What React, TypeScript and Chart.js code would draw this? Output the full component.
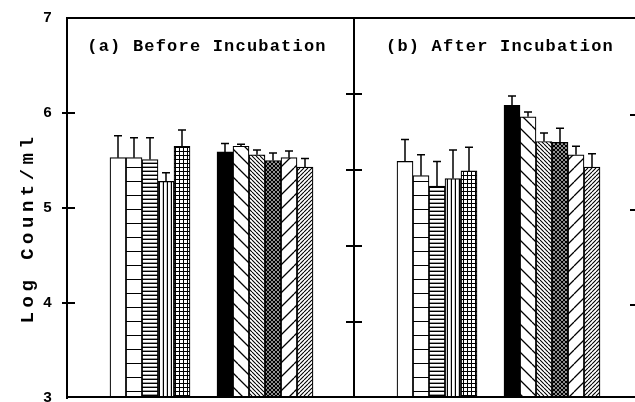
import React, { useEffect, useRef } from "react";
import { Chart, registerables } from "chart.js";

Chart.register(...registerables);

// ---------------- DATA ----------------
const PANEL_TITLES = ["(a) Before Incubation", "(b) After Incubation"];
const Y_TITLE = "Log Count/ml";
const Y_MIN = 3;
const Y_MAX = 7;
const Y_STEP = 1;

const G1_SERIES = ["Group 1 - 1", "Group 1 - 2", "Group 1 - 3", "Group 1 - 4", "Group 1 - 5"];
const G2_SERIES = ["Group 2 - 1", "Group 2 - 2", "Group 2 - 3", "Group 2 - 4", "Group 2 - 5", "Group 2 - 6"];

const G1_BEFORE = [5.53, 5.53, 5.51, 5.28, 5.65];
const G1_BEFORE_ERR = [0.23, 0.21, 0.23, 0.09, 0.17];
const G1_AFTER = [5.49, 5.34, 5.23, 5.31, 5.39];
const G1_AFTER_ERR = [0.23, 0.22, 0.26, 0.3, 0.25];

const G2_BEFORE = [5.59, 5.65, 5.56, 5.5, 5.53, 5.43];
const G2_BEFORE_ERR = [0.09, 0.02, 0.05, 0.08, 0.07, 0.09];
const G2_AFTER = [6.08, 5.96, 5.7, 5.69, 5.56, 5.43];
const G2_AFTER_ERR = [0.1, 0.05, 0.09, 0.15, 0.09, 0.14];

const G1_PATTERNS = ["blank", "hwide", "hdense", "vdense", "grid"];
const G2_PATTERNS = ["solid", "bswide", "bsdense", "checker", "fswide", "fsdense"];

// ---------------- LAYOUT ----------------
const W = 635;
const H = 402;
const AXIS_W = 67;
const PLOT_UNITS = W - AXIS_W; // 1 x-unit = 1 px
const PANEL_START = [0, 287];
const GROUP_OFFSET = [43, 150];
const BAR_W = 16;
const DIVIDER_X = 287;
const TITLE_X = [140, 433];
const MID_TICK_INTERVALS = 5;

function barX(panel: number, group: number, i: number) {
  return PANEL_START[panel] + GROUP_OFFSET[group] + i * BAR_W + BAR_W / 2;
}

function makePattern(kind: string): any {
  if (kind === "blank") return "#ffffff";
  if (kind === "solid") return "#000000";
  const s = kind.endsWith("wide") ? 14 : 4;
  const c = document.createElement("canvas");
  c.width = s;
  c.height = s;
  const g = c.getContext("2d")!;
  g.fillStyle = "#ffffff";
  g.fillRect(0, 0, s, s);
  g.fillStyle = "#000000";
  g.strokeStyle = "#000000";
  g.lineWidth = kind.endsWith("wide") ? 1.3 : 1.1;
  const diag = (dir: number) => {
    g.beginPath();
    for (let k = -1; k <= 1; k++) {
      if (dir > 0) {
        g.moveTo(k * s, 0);
        g.lineTo(k * s + s, s);
      } else {
        g.moveTo(k * s, s);
        g.lineTo(k * s + s, 0);
      }
    }
    g.stroke();
  };
  switch (kind) {
    case "hwide":
      g.fillRect(0, s - 1, s, 1);
      break;
    case "hdense":
      g.fillRect(0, s - 1.4, s, 1.4);
      break;
    case "vdense":
      g.fillRect(s - 1.2, 0, 1.2, s);
      break;
    case "grid":
      g.fillRect(0, s - 1, s, 1);
      g.fillRect(s - 1, 0, 1, s);
      break;
    case "bswide":
    case "bsdense":
      diag(1);
      break;
    case "fswide":
    case "fsdense":
      diag(-1);
      break;
    case "checker":
      g.lineWidth = 1.3;
      diag(1);
      diag(-1);
      break;
  }
  return g.createPattern(c, "repeat");
}

const decorPlugin = {
  id: "decor",
  afterDatasetsDraw(chart: any) {
    const ctx = chart.ctx;
    const y = chart.scales.y;
    ctx.save();
    ctx.strokeStyle = "#000";
    ctx.lineWidth = 1.5;
    chart.data.datasets.forEach((ds: any, di: number) => {
      const meta = chart.getDatasetMeta(di);
      meta.data.forEach((bar: any, j: number) => {
        const v = ds.data[j].y;
        const e = ds.errors[j];
        const top = y.getPixelForValue(v + e);
        ctx.beginPath();
        ctx.moveTo(bar.x, bar.y);
        ctx.lineTo(bar.x, top);
        ctx.moveTo(bar.x - 4, top);
        ctx.lineTo(bar.x + 4, top);
        ctx.stroke();
      });
    });
    ctx.restore();
  },
  afterDraw(chart: any) {
    const ctx = chart.ctx;
    const a = chart.chartArea;
    const x = chart.scales.x;
    const y = chart.scales.y;
    const div = x.getPixelForValue(DIVIDER_X);
    ctx.save();
    ctx.strokeStyle = "#000";
    ctx.lineWidth = 2;
    ctx.beginPath();
    ctx.moveTo(a.left, a.top);
    ctx.lineTo(a.right, a.top);
    ctx.moveTo(a.left, a.bottom - 1);
    ctx.lineTo(a.right, a.bottom - 1);
    ctx.moveTo(div, a.top);
    ctx.lineTo(div, a.bottom);
    ctx.stroke();
    // integer ticks on left and right edges
    ctx.beginPath();
    for (let v = Y_MIN + Y_STEP; v < Y_MAX; v += Y_STEP) {
      const py = y.getPixelForValue(v);
      ctx.moveTo(a.left - 5, py);
      ctx.lineTo(a.left + 8, py);
      ctx.moveTo(a.right - 5, py + 2);
      ctx.lineTo(a.right, py + 2);
    }
    // middle divider ticks
    const step = (Y_MAX - Y_MIN) / MID_TICK_INTERVALS;
    for (let k = 1; k < MID_TICK_INTERVALS; k++) {
      const py = y.getPixelForValue(Y_MIN + k * step);
      ctx.moveTo(div - 8, py);
      ctx.lineTo(div + 8, py);
    }
    ctx.stroke();
    // panel titles
    ctx.fillStyle = "#000";
    ctx.font = "bold 17px 'Liberation Mono'";
    (ctx as any).letterSpacing = "1.2px";
    ctx.textAlign = "center";
    ctx.textBaseline = "middle";
    PANEL_TITLES.forEach((t, i) => {
      ctx.fillText(t, x.getPixelForValue(TITLE_X[i]), a.top + 29);
    });
    // y title
    ctx.font = "bold 19px 'Liberation Mono'";
    (ctx as any).letterSpacing = "4.5px";
    ctx.translate(28, 228);
    ctx.rotate(-Math.PI / 2);
    ctx.fillText(Y_TITLE, 0, 0);
    ctx.restore();
  },
};

export default function App() {
  const ref = useRef<HTMLCanvasElement | null>(null);
  useEffect(() => {
    if (!ref.current) return;
    const datasets: any[] = [];
    G1_SERIES.forEach((label, i) => {
      datasets.push({
        label,
        data: [
          { x: barX(0, 0, i), y: G1_BEFORE[i] },
          { x: barX(1, 0, i), y: G1_AFTER[i] },
        ],
        errors: [G1_BEFORE_ERR[i], G1_AFTER_ERR[i]],
        backgroundColor: makePattern(G1_PATTERNS[i]),
      });
    });
    G2_SERIES.forEach((label, i) => {
      datasets.push({
        label,
        data: [
          { x: barX(0, 1, i), y: G2_BEFORE[i] },
          { x: barX(1, 1, i), y: G2_AFTER[i] },
        ],
        errors: [G2_BEFORE_ERR[i], G2_AFTER_ERR[i]],
        backgroundColor: makePattern(G2_PATTERNS[i]),
      });
    });
    datasets.forEach((d) => {
      d.borderColor = "#000";
      d.borderWidth = 1.2;
      d.barThickness = BAR_W;
      d.grouped = false;
    });
    const chart = new Chart(ref.current, {
      type: "bar",
      data: { datasets },
      options: {
        animation: false,
        responsive: false,
        layout: { padding: { top: 18, bottom: 4, left: 0, right: 0 } },
        plugins: { legend: { display: false }, tooltip: { enabled: false } },
        scales: {
          x: {
            type: "linear",
            min: 0,
            max: PLOT_UNITS,
            offset: false,
            display: false,
          },
          y: {
            min: Y_MIN,
            max: Y_MAX,
            grid: { display: false, drawTicks: false },
            border: { display: true, color: "#000", width: 2 },
            ticks: {
              stepSize: Y_STEP,
              color: "#000",
              padding: 15,
              font: { family: "'Liberation Mono'", size: 15, weight: "bold" },
            },
            afterFit: (s: any) => {
              s.width = AXIS_W;
              s.paddingTop = 0;
              s.paddingBottom = 0;
            },
          },
        },
      } as any,
      plugins: [decorPlugin],
    });
    return () => chart.destroy();
  }, []);
  return (
    <div style={{ position: "absolute", left: 0, top: 0, width: W, height: H, background: "#fff" }}>
      <canvas ref={ref} width={W} height={H} style={{ display: "block" }} />
    </div>
  );
}
